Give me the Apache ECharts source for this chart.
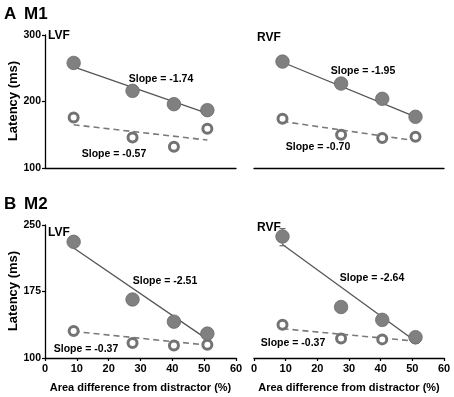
<!DOCTYPE html>
<html>
<head>
<meta charset="utf-8">
<script src="https://cdn.jsdelivr.net/npm/echarts@6/dist/echarts.min.js"></script>
<style>html,body{margin:0;padding:0;background:#fff}#c{width:454px;height:397px}</style>
</head>
<body>
<div id="c"></div>
<script>
// ---- data ----
const xVals = [9, 27.5, 40.5, 51];
const fitX = [9, 51];
const xTicks = [0, 10, 20, 30, 40, 50, 60];
const yTicksM1 = [100, 200, 300];
const yTicksM2 = [100, 175, 250];

const m1LvfFilled = [258, 216, 196, 187];
const m1LvfOpen = [176, 146, 132, 159];
const m1RvfFilled = [260, 227, 204, 177];
const m1RvfOpen = [174, 150, 145, 147];
const m2LvfFilled = [231, 166, 141, 127.5];
const m2LvfOpen = [130.5, 117, 114, 115];
const m2RvfFilled = [237, 157.5, 143, 123.5];
const m2RvfOpen = [137.5, 122, 121, 122];

const m1LvfFitSolid = [252, 182];
const m1LvfFitDashed = [165, 142];
const m1RvfFitSolid = [259, 177];
const m1RvfFitDashed = [170, 141];
const m2LvfFitSolid = [224, 121];
const m2LvfFitDashed = [130, 114.5];
const m2RvfFitSolid = [228, 119];
const m2RvfFitDashed = [133, 119];

// error bars visible beyond markers: [x, low, high]
const m2LvfErr = [[9, 227, 235]];
const m2RvfErr = [[9, 226.6, 246]];

const slopeLabels = ['Slope = -1.74', 'Slope = -0.57', 'Slope = -1.95', 'Slope = -0.70',
                     'Slope = -2.51', 'Slope = -0.37', 'Slope = -2.64', 'Slope = -0.37'];

// ---- chart ----
const FONT = '"Liberation Sans", Arial, Helvetica, sans-serif';
const chart = echarts.init(document.getElementById('c'));

const grids = [
  {left: 45, top: 35, width: 191, height: 133},
  {left: 254, top: 35, width: 190, height: 133},
  {left: 45, top: 225, width: 191, height: 133},
  {left: 254, top: 225, width: 190, height: 133}
];

function xAxis(i, bottomRow) {
  return {
    gridIndex: i, type: 'value', min: xTicks[0], max: xTicks[xTicks.length - 1], interval: 10,
    axisLine: {show: true, onZero: false, lineStyle: {color: '#000', width: 1.3}},
    axisTick: {show: bottomRow, inside: false, length: 3, lineStyle: {color: '#000', width: 1.2}},
    axisLabel: {show: bottomRow, margin: 5, color: '#000', fontFamily: FONT, fontWeight: 'bold', fontSize: 11},
    splitLine: {show: false},
    name: bottomRow ? 'Area difference from distractor (%)' : '',
    nameLocation: 'middle', nameGap: 24,
    nameTextStyle: {color: '#000', fontFamily: FONT, fontWeight: 'bold', fontSize: 11}
  };
}
function yAxis(i, ticks, visible) {
  const lo = ticks[0], hi = ticks[ticks.length - 1];
  return {
    gridIndex: i, type: 'value', min: lo, max: hi, interval: ticks[1] - ticks[0],
    show: visible,
    axisLine: {show: visible, lineStyle: {color: '#000', width: 1.3}},
    axisTick: {show: visible, length: 3, lineStyle: {color: '#000', width: 1.2}},
    axisLabel: {show: visible, margin: 4, color: '#000', fontFamily: FONT, fontWeight: 'bold', fontSize: 10.5},
    splitLine: {show: false}
  };
}

function panel(i, filled, open, fitS, fitD, err) {
  const s = [];
  s.push({type: 'line', xAxisIndex: i, yAxisIndex: i, z: 2, symbol: 'none', silent: true,
    data: fitX.map((x, k) => [x, fitD[k]]),
    lineStyle: {color: '#7a7a7a', width: 1.6, type: [6, 4]}});
  s.push({type: 'scatter', xAxisIndex: i, yAxisIndex: i, z: 3, symbolSize: 9,
    data: xVals.map((x, k) => [x, open[k]]),
    itemStyle: {color: '#fff', borderColor: '#737373', borderWidth: 3, opacity: 1}});
  s.push({type: 'line', xAxisIndex: i, yAxisIndex: i, z: 4, symbol: 'none', silent: true,
    data: fitX.map((x, k) => [x, fitS[k]]),
    lineStyle: {color: '#555', width: 1.3}});
  if (err) {
    s.push({type: 'custom', xAxisIndex: i, yAxisIndex: i, z: 5, data: err,
      renderItem: function (params, api) {
        const top = api.coord([api.value(0), api.value(2)]);
        const bot = api.coord([api.value(0), api.value(1)]);
        const w = 3;
        const st = {stroke: '#6e6e6e', lineWidth: 1.2};
        return {type: 'group', children: [
          {type: 'line', shape: {x1: top[0], y1: top[1], x2: bot[0], y2: bot[1]}, style: st},
          {type: 'line', shape: {x1: top[0] - w, y1: top[1], x2: top[0] + w, y2: top[1]}, style: st},
          {type: 'line', shape: {x1: bot[0] - w, y1: bot[1], x2: bot[0] + w, y2: bot[1]}, style: st}
        ]};
      }});
  }
  s.push({type: 'scatter', xAxisIndex: i, yAxisIndex: i, z: 6, symbolSize: 13.5,
    data: xVals.map((x, k) => [x, filled[k]]),
    itemStyle: {color: '#808080', borderColor: '#6a6a6a', borderWidth: 0.8, opacity: 1}});
  return s;
}

function txt(x, y, text, size, align, rot) {
  return {type: 'text', x: x, y: y, rotation: rot || 0, silent: true,
    style: {text: text, fill: '#000', font: 'bold ' + size + 'px ' + FONT,
      textAlign: align || 'center', textVerticalAlign: 'middle'}};
}

const graphics = [
  txt(4, 14, 'A', 17, 'left'), txt(24, 14, 'M1', 17, 'left'),
  txt(4, 204.5, 'B', 17, 'left'), txt(24, 204.5, 'M2', 17, 'left'),
  txt(48, 36, 'LVF', 12, 'left'), txt(257, 37.5, 'RVF', 12, 'left'),
  txt(48, 233, 'LVF', 12, 'left'), txt(257, 228, 'RVF', 12, 'left'),
  txt(13, 101, 'Latency (ms)', 13, 'center', Math.PI / 2),
  txt(13, 291, 'Latency (ms)', 13, 'center', Math.PI / 2),
  txt(161, 79, slopeLabels[0], 10.5), txt(114, 154, slopeLabels[1], 10.5),
  txt(363, 71, slopeLabels[2], 10.5), txt(318, 147.5, slopeLabels[3], 10.5),
  txt(165, 281, slopeLabels[4], 10.5), txt(86, 349, slopeLabels[5], 10.5),
  txt(372, 278.5, slopeLabels[6], 10.5), txt(293, 343, slopeLabels[7], 10.5)
];

chart.setOption({
  animation: false,
  backgroundColor: '#fff',
  grid: grids,
  xAxis: [xAxis(0, false), xAxis(1, false), xAxis(2, true), xAxis(3, true)],
  yAxis: [yAxis(0, yTicksM1, true), yAxis(1, yTicksM1, false), yAxis(2, yTicksM2, true), yAxis(3, yTicksM2, false)],
  series: [].concat(
    panel(0, m1LvfFilled, m1LvfOpen, m1LvfFitSolid, m1LvfFitDashed, null),
    panel(1, m1RvfFilled, m1RvfOpen, m1RvfFitSolid, m1RvfFitDashed, null),
    panel(2, m2LvfFilled, m2LvfOpen, m2LvfFitSolid, m2LvfFitDashed, m2LvfErr),
    panel(3, m2RvfFilled, m2RvfOpen, m2RvfFitSolid, m2RvfFitDashed, m2RvfErr)
  ),
  graphic: graphics
});
</script>
</body>
</html>
